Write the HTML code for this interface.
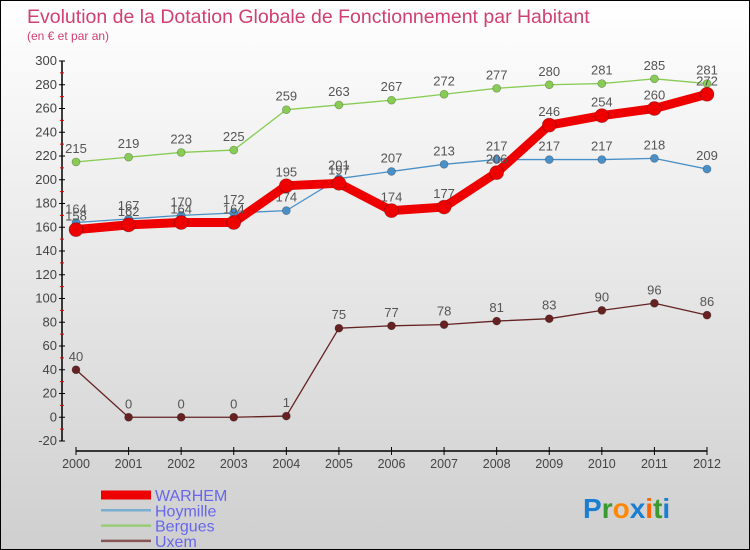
<!DOCTYPE html>
<html><head><meta charset="utf-8"><style>
body{margin:0}
#wrap{width:750px;height:550px;position:relative;box-sizing:border-box;border:1px solid #000;background:linear-gradient(#ffffff,#cfcfcf);font-family:"Liberation Sans","DejaVu Sans",sans-serif;overflow:hidden}
</style></head><body>
<div id="wrap">
<svg id="chart" width="750" height="550" style="position:absolute;left:0;top:0">
<text x="26" y="22" font-size="19.5" fill="#d04070">Evolution de la Dotation Globale de Fonctionnement par Habitant</text>
<text x="26" y="39" font-size="12" fill="#d04070">(en € et par an)</text>
</svg>
</div>
<script>
const years=[2000,2001,2002,2003,2004,2005,2006,2007,2008,2009,2010,2011,2012];
const warhem=[158,162,164,164,195,197,174,177,206,246,254,260,272];
const hoymille=[164,167,170,172,174,201,207,213,217,217,217,218,209];
const bergues=[215,219,223,225,259,263,267,272,277,280,281,285,281];
const uxem=[40,0,0,0,1,75,77,78,81,83,90,96,86];
const yTicks=[-20,0,20,40,60,80,100,120,140,160,180,200,220,240,260,280,300];
const seriesNames=["WARHEM","Hoymille","Bergues","Uxem"];
const svg=document.getElementById('chart');const NS='http://www.w3.org/2000/svg';
const X=i=>75+i*(706-75)/(years.length-1);
const Y=v=>416.25-v*1.1875;
function mk(t,a,p){const e=document.createElementNS(NS,t);for(const k in a)e.setAttribute(k,a[k]);(p||svg).appendChild(e);return e;}
let ax=mk('line',{x1:61,y1:60,x2:61,y2:440,stroke:'#000','stroke-width':1.5});


yTicks.forEach((v,i)=>{const y=Y(v);
 mk('line',{x1:58,y1:y,x2:64,y2:y,stroke:'#000'});
 if(i<yTicks.length-1)mk('line',{x1:59,y1:Y(v+10),x2:63,y2:Y(v+10),stroke:'#e00'});
 const t=mk('text',{x:56,y:y+4,'text-anchor':'end','font-size':13,fill:'#444'});t.textContent=v;
 
 });
let xa=mk('line',{x1:75,y1:450,x2:706,y2:450,stroke:'#000','stroke-width':1.5});


years.forEach((yr,i)=>{mk('line',{x1:X(i),y1:446,x2:X(i),y2:454,stroke:'#000'});
 const t=mk('text',{x:X(i),y:467,'text-anchor':'middle','font-size':12.5,fill:'#444'});t.textContent=yr;
 
 });
function series(vals,color,w,r,name){
 const g=mk('g',{});
 
 
 mk('polyline',{points:vals.map((v,i)=>X(i)+','+Y(v)).join(' '),fill:'none',stroke:color,'stroke-width':w,'stroke-linejoin':'round'},g);
 vals.forEach((v,i)=>{const c=mk('circle',{cx:X(i),cy:Y(v),r:r,fill:color,stroke:'rgba(0,0,0,0.3)','stroke-width':0.7},g);
  
  
  const t=mk('text',{x:X(i),y:Y(v)-9,'text-anchor':'middle','font-size':13,fill:'#555'},g);t.textContent=v;});
}
series(bergues,'#88cc55',1.3,4,'bergues');
series(uxem,'#662222',1.3,4,'uxem');
series(hoymille,'#4a90c8',1.3,4,'hoymille');
series(warhem,'#ee0000',9,7,'warhem');
const lc=[['#ee0000',9],['#7aaed0',2.5],['#99cc77',2.5],['#885555',2.5]];
seriesNames.forEach((n,i)=>{const y=494+i*15.3;
 const g=mk('g',{});
 
 
 mk('line',{x1:100,y1:y,x2:150,y2:y,stroke:lc[i][0],'stroke-width':lc[i][1]},g);
 const t=mk('text',{x:154,y:y+6,'font-size':16,fill:'#6666ee'},g);t.textContent=n;});
const logo=[['P','#1a7fd0'],['r','#3a9a30'],['o','#ff8800'],['x','#1a7fd0'],['i','#ff6600'],['t','#3a9a30'],['i','#1a7fd0']];
const lg=mk('text',{x:582,y:517,'font-size':28,'font-weight':'bold'});


logo.forEach(([c,col])=>{const s=mk('tspan',{fill:col},lg);s.textContent=c;});
</script>
</body></html>
